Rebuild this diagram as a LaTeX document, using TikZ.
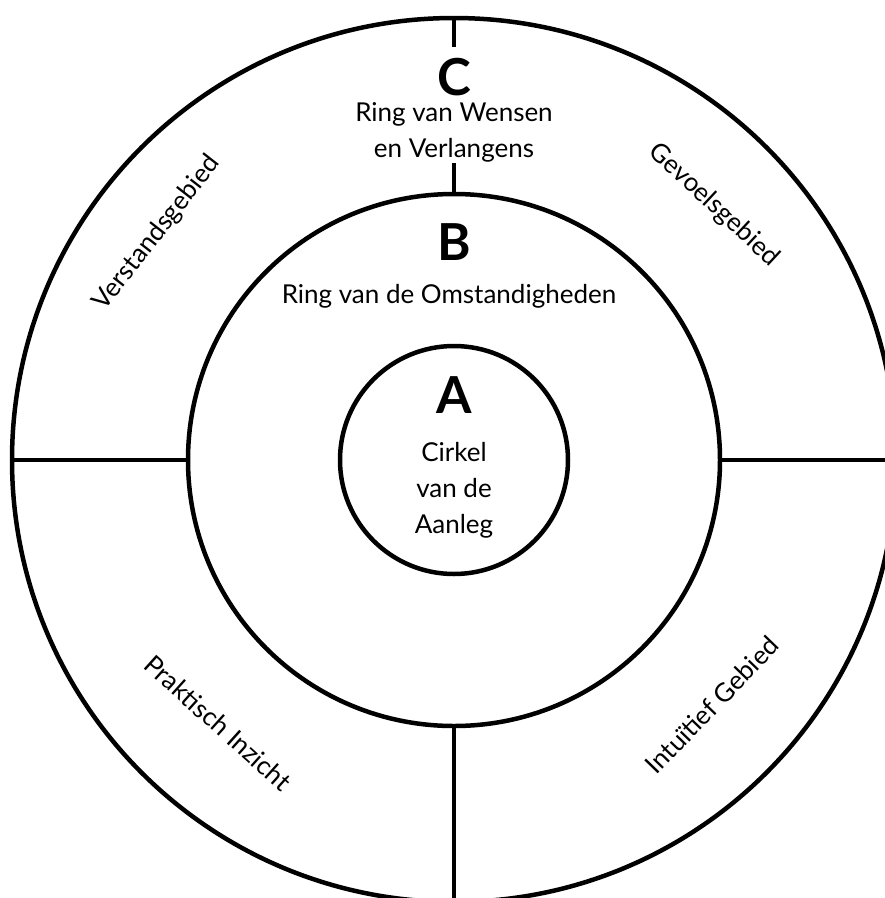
\documentclass[tikz,border=0pt]{standalone}
\usepackage{fontspec}
\setmainfont{Lato}
\begin{document}
\begin{tikzpicture}[x=1pt, y=-1pt,
    ringline/.style = {draw, circle, line width=4.5pt, outer sep=0pt, inner sep=0pt, minimum size=#1},
    divider/.style = {line width=4.5pt},
    bigletter/.style = {font=\bfseries\fontsize{51}{51}\selectfont, anchor=base, inner sep=0pt},
    ringtext/.style = {font=\fontsize{26}{36}\selectfont, align=center, anchor=base, inner sep=0pt}]
    \useasboundingbox (0, 0) rectangle (885, 898);
    % the three rings
    \node [ringline=884pt] (wensen) at (454, 460) {};
    \node [ringline=532pt] (omstand) at (454, 460) {};
    \node [ringline=228pt] (aanleg) at (454, 460) {};
    % dividers
    \coordinate (ctop) at (454, 47);
    \coordinate (cbot) at (454, 163);
    \draw [divider] (wensen.west) -- (omstand.west);
    \draw [divider] (omstand.east) -- (wensen.east);
    \draw [divider] (omstand.south) -- (wensen.south);
    \draw [divider] (wensen.north) -- (ctop);
    \draw [divider] (cbot) -- (omstand.north);
    % ring titles (base = last line)
    \node [bigletter] (lc) at (454, 95) {C};
    \node [ringtext] (tc) at (454, 157) {Ring van Wensen\\en Verlangens};
    \node [bigletter] (lb) at (454, 260) {B};
    \node [ringtext] (tb) at (449, 303) {Ring van de Omstandigheden};
    \node [bigletter] (la) at (454, 413) {A};
    \node [ringtext] (ta) at (454, 533) {Cirkel\\van de\\Aanleg};
    % quarters of the outer ring
    \node [ringtext, anchor=center, rotate=52] (verstand) at (157, 233) {Verstandsgebied};
    \node [ringtext, anchor=center, rotate=-43] (gevoel) at (714, 205) {Gevoelsgebied};
    \node [ringtext, anchor=center, rotate=-42] (praktisch) at (218, 723) {Praktisch Inzicht};
    \node [ringtext, anchor=center, rotate=46] (intuitief) at (712, 705) {Intuïtief Gebied};
\end{tikzpicture}
\end{document}
